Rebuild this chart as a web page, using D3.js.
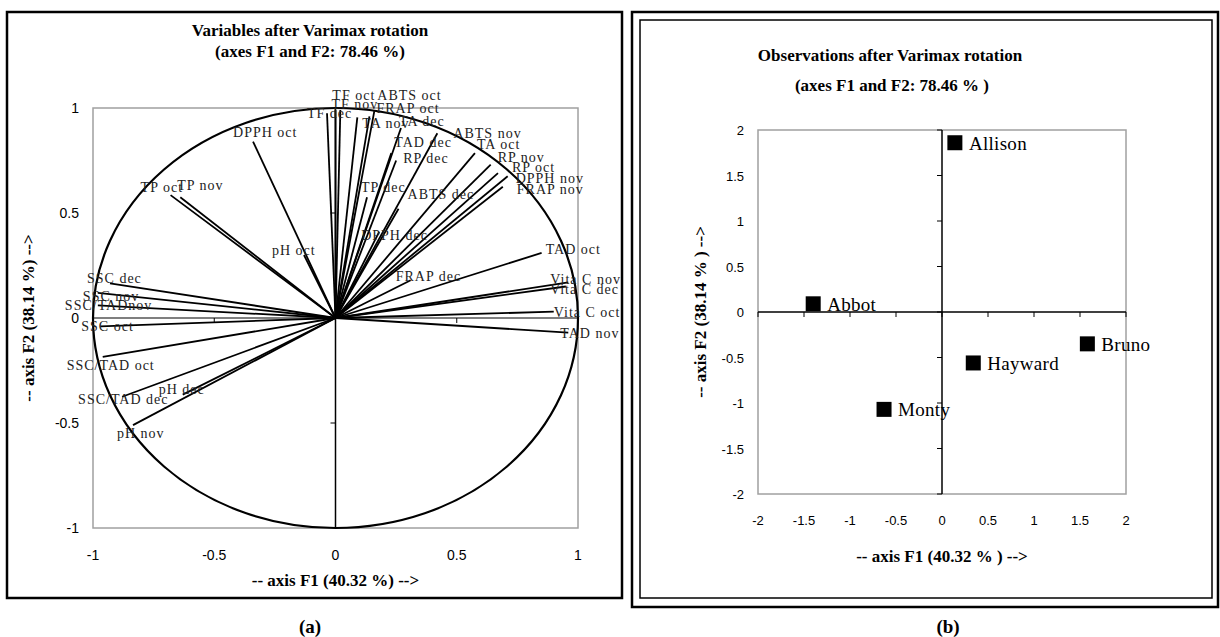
<!DOCTYPE html>
<head>
  <meta charset="utf-8">
  <title>Varimax</title>
  <script src="https://d3js.org/d3.v7.min.js"></script>
  <style>
    body { margin: 0; background: #fff; }
    text { font-family: "Liberation Serif", "Times New Roman", serif; fill: #000; }
    .tick { font-family: "Liberation Sans", Arial, sans-serif; font-size: 14px; }
    .title { font-weight: bold; font-size: 17px; }
    .var { font-size: 14px; letter-spacing: 1px; fill: #222; }
    .obs { font-size: 19px; letter-spacing: 0.3px; }
  </style>
</head>

<body>
  <script>
    // variables (loadings after varimax)
    var variables = ["TF oct", "TF nov", "TF dec", "ABTS oct", "FRAP oct", "TA nov", "TA dec",
      "TAD dec", "RP dec", "TP dec", "ABTS dec", "DPPH dec", "FRAP dec", "ABTS nov", "TA oct",
      "RP nov", "RP oct", "DPPH nov", "FRAP nov", "TAD oct", "Vita C nov", "Vita C dec",
      "Vita C oct", "TAD nov", "DPPH oct", "TP oct", "TP nov", "pH oct", "SSC dec", "SSC nov",
      "SSC/TADnov", "SSC oct", "SSC/TAD oct", "SSC/TAD dec", "pH dec", "pH nov"];
    var loadF1 = [0.02, 0.00, -0.035, 0.16, 0.14, 0.09, 0.27,
      0.23, 0.25, 0.13, 0.26, 0.18, 0.31, 0.42, 0.575,
      0.64, 0.67, 0.71, 0.69, 0.85, 0.96, 0.95,
      0.90, 0.96, -0.34, -0.68, -0.64, -0.13, -0.93, -0.98,
      -0.98, -0.97, -0.96, -0.88, -0.63, -0.835];
    var loadF2 = [0.99, 0.99, 0.975, 0.985, 0.96, 0.955, 0.905,
      0.785, 0.75, 0.575, 0.52, 0.41, 0.18, 0.88, 0.785,
      0.73, 0.69, 0.675, 0.625, 0.31, 0.17, 0.15,
      0.03, -0.07, 0.84, 0.585, 0.575, 0.30, 0.165, 0.12,
      0.06, -0.04, -0.185, -0.375, -0.365, -0.51];

    // observations (factor scores)
    var observations = ["Allison", "Abbot", "Bruno", "Hayward", "Monty"];
    var scoreF1 = [0.14, -1.40, 1.58, 0.34, -0.63];
    var scoreF2 = [1.86, 0.09, -0.35, -0.56, -1.07];

    var ticksA = [-1, -0.5, 0, 0.5, 1];
    var ticksB = [-2, -1.5, -1, -0.5, 0, 0.5, 1, 1.5, 2];

    // label nudges in px (left edge / vertical centre relative to vector end)
    var labelNudge = {
      "TF oct": [-8, -15], "TF nov": [-4, -6], "TF dec": [-20, 0], "ABTS oct": [3, -16],
      "FRAP oct": [7, -8], "TA nov": [5, 6], "TA dec": [-2, -7], "TAD dec": [3, -11],
      "RP dec": [7, -3], "TP dec": [-6, -10], "ABTS dec": [9, -15], "DPPH dec": [-18, 3],
      "FRAP dec": [-15, -4], "ABTS nov": [16, 0], "TA oct": [2, -9], "RP nov": [7, -8],
      "RP oct": [14, -6], "DPPH nov": [8, 2], "FRAP nov": [14, 2], "TAD oct": [4, -4],
      "Vita C nov": [-18, -3], "Vita C dec": [-16, 2], "Vita C oct": [0, 0], "TAD nov": [-8, 0],
      "DPPH oct": [-20, -10], "TP oct": [-30, -8], "TP nov": [-3, -12], "pH oct": [-32, -5],
      "SSC dec": [-23, -5], "SSC nov": [-15, 3], "SSC/TADnov": [-33, 0], "SSC oct": [-19, 0],
      "SSC/TAD oct": [-36, 8], "SSC/TAD dec": [-44, 2], "pH dec": [-24, -6], "pH nov": [-16, 8]
    };

    var width = 1220, height = 637;
    var svg = d3.select("body").append("svg")
      .attr("width", width).attr("height", height);

    // ---------- frames ----------
    svg.append("rect").attr("x", 7).attr("y", 12).attr("width", 615).attr("height", 586)
      .attr("fill", "none").attr("stroke", "#000").attr("stroke-width", 2.5);
    svg.append("rect").attr("x", 632).attr("y", 12).attr("width", 586).attr("height", 595)
      .attr("fill", "none").attr("stroke", "#000").attr("stroke-width", 2.5);
    svg.append("rect").attr("x", 640).attr("y", 20).attr("width", 572).attr("height", 578)
      .attr("fill", "none").attr("stroke", "#000").attr("stroke-width", 1.5);

    // ---------- (a) correlation circle ----------
    var xa = d3.scaleLinear().domain([-1, 1]).range([93, 578]),
        ya = d3.scaleLinear().domain([-1, 1]).range([528, 108]);
    var ga = svg.append("g");

    ga.append("rect").attr("x", xa(-1)).attr("y", ya(1))
      .attr("width", xa(1) - xa(-1)).attr("height", ya(-1) - ya(1))
      .attr("fill", "none").attr("stroke", "#a0a0a0").attr("stroke-width", 1.5);

    ga.append("line").attr("x1", xa(-1)).attr("x2", xa(1)).attr("y1", ya(0)).attr("y2", ya(0))
      .attr("stroke", "#000").attr("stroke-width", 1.2);
    ga.append("line").attr("x1", xa(0)).attr("x2", xa(0)).attr("y1", ya(-1)).attr("y2", ya(1))
      .attr("stroke", "#000").attr("stroke-width", 1.5);
    [-0.5, 0.5].forEach(function (t) {
      ga.append("line").attr("x1", xa(t)).attr("x2", xa(t)).attr("y1", ya(0)).attr("y2", ya(0) + 5)
        .attr("stroke", "#000");
      ga.append("line").attr("x1", xa(0) - 5).attr("x2", xa(0)).attr("y1", ya(t)).attr("y2", ya(t))
        .attr("stroke", "#000");
    });

    ga.append("ellipse").attr("cx", xa(0)).attr("cy", ya(0))
      .attr("rx", xa(1) - xa(0)).attr("ry", ya(0) - ya(1))
      .attr("fill", "none").attr("stroke", "#000").attr("stroke-width", 2.2);

    ga.selectAll(".vec").data(variables).enter().append("line")
      .attr("x1", xa(0)).attr("y1", ya(0))
      .attr("x2", function (d, i) { return xa(loadF1[i]); })
      .attr("y2", function (d, i) { return ya(loadF2[i]); })
      .attr("stroke", "#000").attr("stroke-width", 1.8);

    ga.selectAll(".var").data(variables).enter().append("text")
      .attr("class", "var")
      .attr("x", function (d, i) { return xa(loadF1[i]) + labelNudge[d][0]; })
      .attr("y", function (d, i) { return ya(loadF2[i]) + labelNudge[d][1] + 5; })
      .text(function (d) { return d; });

    ga.selectAll(".tx").data(ticksA).enter().append("text")
      .attr("class", "tick").attr("text-anchor", "middle")
      .attr("x", function (d) { return xa(d); }).attr("y", 560)
      .text(function (d) { return d; });
    ga.selectAll(".ty").data(ticksA).enter().append("text")
      .attr("class", "tick").attr("text-anchor", "end")
      .attr("x", 79).attr("y", function (d) { return ya(d) + 5; })
      .text(function (d) { return d; });

    ga.append("text").attr("class", "title").attr("text-anchor", "middle")
      .attr("x", 310).attr("y", 36).text("Variables after Varimax rotation");
    ga.append("text").attr("class", "title").attr("text-anchor", "middle")
      .attr("x", 310).attr("y", 57).text("(axes F1 and F2: 78.46 %)");
    ga.append("text").attr("class", "title").attr("text-anchor", "middle")
      .attr("x", xa(0)).attr("y", 586).text("-- axis F1 (40.32 %) -->");
    ga.append("text").attr("class", "title").attr("text-anchor", "middle")
      .attr("transform", "translate(34," + ya(0) + ") rotate(-90)")
      .text("-- axis F2 (38.14 %) -->");

    // ---------- (b) observations ----------
    var xb = d3.scaleLinear().domain([-2, 2]).range([758, 1126]),
        yb = d3.scaleLinear().domain([-2, 2]).range([494, 130]);
    var gb = svg.append("g");

    gb.append("rect").attr("x", xb(-2)).attr("y", yb(2))
      .attr("width", xb(2) - xb(-2)).attr("height", yb(-2) - yb(2))
      .attr("fill", "none").attr("stroke", "#a0a0a0").attr("stroke-width", 1.5);
    gb.append("line").attr("x1", xb(-2)).attr("x2", xb(2)).attr("y1", yb(0)).attr("y2", yb(0))
      .attr("stroke", "#000").attr("stroke-width", 1.5);
    gb.append("line").attr("x1", xb(0)).attr("x2", xb(0)).attr("y1", yb(-2)).attr("y2", yb(2))
      .attr("stroke", "#000").attr("stroke-width", 1.5);
    gb.selectAll(".tkx").data(ticksB).enter().append("line")
      .attr("x1", function (d) { return xb(d); }).attr("x2", function (d) { return xb(d); })
      .attr("y1", yb(0)).attr("y2", yb(0) + 5).attr("stroke", "#000");
    gb.selectAll(".tky").data(ticksB).enter().append("line")
      .attr("x1", xb(0) - 5).attr("x2", xb(0))
      .attr("y1", function (d) { return yb(d); }).attr("y2", function (d) { return yb(d); })
      .attr("stroke", "#000");

    gb.selectAll(".tx").data(ticksB).enter().append("text")
      .attr("class", "tick").attr("text-anchor", "middle").style("font-size", "13px")
      .attr("x", function (d) { return xb(d); }).attr("y", 525)
      .text(function (d) { return d; });
    gb.selectAll(".ty").data(ticksB).enter().append("text")
      .attr("class", "tick").attr("text-anchor", "end").style("font-size", "13px")
      .attr("x", 744).attr("y", function (d) { return yb(d) + 5; })
      .text(function (d) { return d; });

    gb.selectAll(".pt").data(observations).enter().append("rect")
      .attr("x", function (d, i) { return xb(scoreF1[i]) - 7.5; })
      .attr("y", function (d, i) { return yb(scoreF2[i]) - 7.5; })
      .attr("width", 15).attr("height", 15).attr("fill", "#000");
    gb.selectAll(".obs").data(observations).enter().append("text")
      .attr("class", "obs")
      .attr("x", function (d, i) { return xb(scoreF1[i]) + 14; })
      .attr("y", function (d, i) { return yb(scoreF2[i]) + 7; })
      .text(function (d) { return d; });

    gb.append("text").attr("class", "title").attr("text-anchor", "middle")
      .attr("x", 890).attr("y", 61).text("Observations after Varimax rotation");
    gb.append("text").attr("class", "title").attr("text-anchor", "middle")
      .attr("x", 892).attr("y", 91).text("(axes F1 and F2: 78.46 % )");
    gb.append("text").attr("class", "title").attr("text-anchor", "middle")
      .attr("x", xb(0)).attr("y", 562).text("-- axis F1 (40.32 % ) -->");
    gb.append("text").attr("class", "title").attr("text-anchor", "middle")
      .attr("transform", "translate(706," + yb(0) + ") rotate(-90)")
      .text("-- axis F2 (38.14 % ) -->");

    // panel captions
    svg.append("text").attr("class", "title").style("font-size", "19px")
      .attr("text-anchor", "middle").attr("x", 310).attr("y", 633).text("(a)");
    svg.append("text").attr("class", "title").style("font-size", "19px")
      .attr("text-anchor", "middle").attr("x", 948).attr("y", 633).text("(b)");
  </script>
</body>
